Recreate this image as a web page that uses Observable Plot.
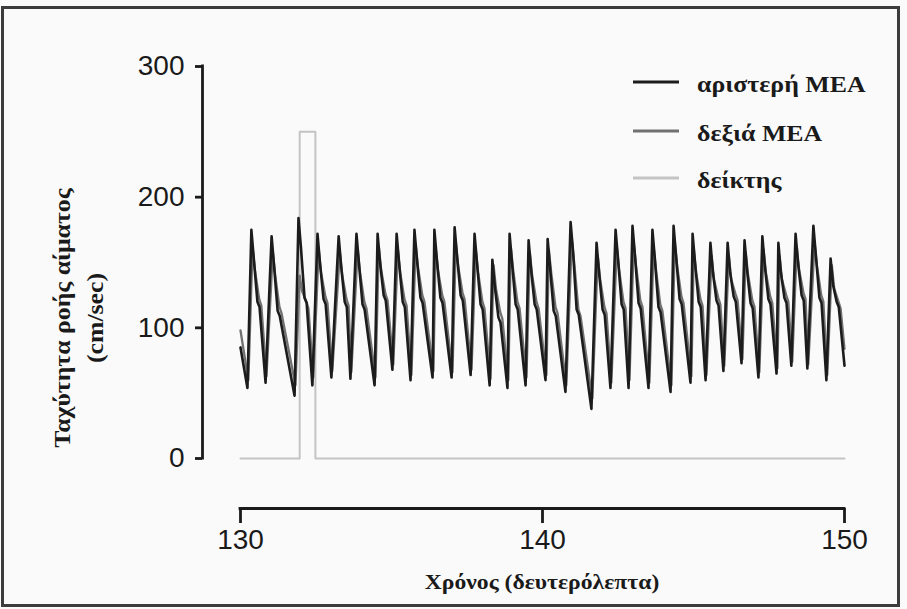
<!DOCTYPE html>
<html><head><meta charset="utf-8">
<script src="https://cdn.jsdelivr.net/npm/d3@7"></script>
<script src="https://cdn.jsdelivr.net/npm/@observablehq/plot@0.6"></script>
<style>
html,body{margin:0;padding:0;background:#fff;}
#wrap{position:relative;width:907px;height:609px;overflow:hidden;background:#fafafa;}
#border{position:absolute;left:1px;top:6px;width:899px;height:601px;border:3px solid #3c3c3c;box-sizing:border-box;}
#chart{position:absolute;left:0;top:0;}
.ttl{position:absolute;font-family:"Liberation Serif","Times New Roman",serif;font-weight:bold;color:#1a1a1a;white-space:nowrap;}
#ytitle{left:79px;top:318px;transform:translate(-50%,-50%) rotate(-90deg) scaleX(1.12);font-size:23px;text-align:center;line-height:33px;}
#xtitle{left:542px;top:582px;transform:translate(-50%,-50%) scaleX(1.1);font-size:21.5px;}
#legend{position:absolute;left:632px;top:60px;}
.li{position:absolute;left:0;height:48px;width:270px;}
.li svg{position:absolute;left:0;top:0;}
.li span{position:absolute;left:65px;top:50%;transform:translateY(-50%) scaleX(1.1);transform-origin:left center;font-family:"Liberation Serif","Times New Roman",serif;font-weight:bold;font-size:23.5px;color:#1a1a1a;white-space:nowrap;}
</style></head><body>
<div id="wrap">
  <div id="chart"></div>
  <div id="ytitle" class="ttl">Ταχύτητα ροής αίματος<br>(cm/sec)</div>
  <div id="xtitle" class="ttl">Χρόνος (δευτερόλεπτα)</div>
  <div id="legend"></div>
  <div id="border"></div>
</div>
<script>
// Series names and colours
const seriesNames = ["αριστερή ΜΕΑ", "δεξιά ΜΕΑ", "δείκτης"];
const seriesColors = ["#1c1c1c", "#717171", "#c4c4c4"];

// Axis ticks
const xTicks = [130, 140, 150];
const yTicks = [0, 100, 200, 300];

// Left MCA (αριστερή ΜΕΑ), per heartbeat: trough, systolic peak, shoulder, dicrotic notch, plateau (s, cm/sec)
const leftStart = [130.0, 85];
const leftEnd = [150.0, 71];
const leftTroughT = [130.23,130.83,131.79,132.38,133.01,133.64,134.44,135.03,135.63,136.36,136.99,137.62,138.25,138.84,139.44,140.10,140.76,141.62,142.25,142.85,143.51,144.24,144.90,145.40,145.99,146.59,147.15,147.75,148.24,148.77,149.40];
const leftTroughV = [54,58,48,56,62,61,56,68,60,62,62,64,56,54,56,60,51,38,54,54,54,51,58,60,67,73,62,65,71,69,60];
const leftPeakT = [130.36,131.03,131.92,132.55,133.25,133.84,134.54,135.17,135.76,136.42,137.09,137.75,138.34,138.91,139.54,140.17,140.93,141.79,142.42,142.98,143.64,144.34,144.97,145.56,146.13,146.69,147.28,147.81,148.38,148.97,149.54];
const leftPeakV = [175,170,184,172,170,172,172,172,175,175,177,172,152,172,167,168,181,165,175,178,175,178,172,165,165,167,170,165,172,178,153];
const leftShoulderT = [130.44,131.11,132.00,132.63,133.33,133.92,134.62,135.25,135.84,136.50,137.17,137.83,138.42,138.99,139.62,140.25,141.01,141.87,142.50,143.06,143.72,144.42,145.05,145.64,146.21,146.77,147.36,147.89,148.46,149.05,149.62];
const leftShoulderV = [153,148,162,150,148,150,150,150,153,153,155,150,132,150,145,146,159,143,153,156,153,156,150,143,143,145,148,143,150,156,133];
const leftNotchT = [130.56,131.23,132.12,132.75,133.45,134.04,134.74,135.37,135.96,136.62,137.29,137.95,138.54,139.11,139.74,140.37,141.13,141.99,142.62,143.18,143.84,144.54,145.17,145.76,146.33,146.89,147.48,148.01,148.58,149.17,149.74];
const leftNotchV = [120,113,123,122,120,118,125,120,123,123,125,118,108,118,118,113,114,114,118,119,116,122,120,121,124,119,122,123,125,123,120];
const leftPlateauT = [130.63,131.30,132.19,132.82,133.52,134.11,134.81,135.44,136.03,136.69,137.36,138.02,138.61,139.18,139.81,140.44,141.20,142.06,142.69,143.25,143.91,144.61,145.24,145.83,146.40,146.96,147.55,148.08,148.65,149.24,149.81];
const leftPlateauV = [116,109,119,118,116,114,121,116,119,119,121,114,104,114,114,109,110,110,114,115,112,118,116,117,120,115,118,119,121,119,116];

// Right MCA (δεξιά ΜΕΑ)
const rightStart = [130.0, 98];
const rightEnd = [150.0, 84];
const rightTroughT = [130.26,130.86,131.82,132.41,133.04,133.67,134.47,135.06,135.66,136.39,137.02,137.65,138.28,138.87,139.47,140.13,140.79,141.65,142.28,142.88,143.54,144.27,144.93,145.43,146.02,146.62,147.18,147.78,148.27,148.80,149.43];
const rightTroughV = [60,63,56,62,67,66,62,72,64,67,66,68,61,60,62,64,56,46,58,60,58,56,63,64,71,76,66,69,74,72,64];
const rightPeakT = [130.40,131.07,131.96,132.59,133.29,133.88,134.58,135.21,135.80,136.46,137.13,137.79,138.38,138.95,139.58,140.21,140.97,141.83,142.46,143.02,143.68,144.38,145.01,145.60,146.17,146.73,147.32,147.85,148.42,149.01,149.58];
const rightPeakV = [162,158,140,160,158,160,162,160,164,162,165,160,148,162,158,160,168,155,162,165,162,165,160,155,155,158,160,155,162,165,148];
const rightShoulderT = [130.48,131.15,132.04,132.67,133.37,133.96,134.66,135.29,135.88,136.54,137.21,137.87,138.46,139.03,139.66,140.29,141.05,141.91,142.54,143.10,143.76,144.46,145.09,145.68,146.25,146.81,147.40,147.93,148.50,149.09,149.66];
const rightShoulderV = [144,140,128,142,140,142,144,142,146,144,147,142,130,144,140,142,150,137,144,147,144,147,142,137,137,140,142,137,144,147,130];
const rightNotchT = [130.62,131.29,132.18,132.81,133.51,134.10,134.80,135.43,136.02,136.68,137.35,138.01,138.60,139.17,139.80,140.43,141.19,142.05,142.68,143.24,143.90,144.60,145.23,145.82,146.39,146.95,147.54,148.07,148.64,149.23,149.80];
const rightNotchV = [122,116,120,124,122,120,126,122,125,125,127,120,112,120,120,116,114,116,120,121,118,124,122,123,126,121,124,125,127,125,120];
const rightPlateauT = [130.69,131.36,132.25,132.88,133.58,134.17,134.87,135.50,136.09,136.75,137.42,138.08,138.67,139.24,139.87,140.50,141.26,142.12,142.75,143.31,143.97,144.67,145.30,145.89,146.46,147.02,147.61,148.14,148.71,149.30,149.87];
const rightPlateauV = [117,111,115,119,117,115,121,117,120,120,122,115,107,115,115,111,109,111,115,116,113,119,117,118,121,116,119,120,122,120,115];

// Marker (δείκτης)
const markerT = [130, 131.96, 131.96, 132.48, 132.48, 150];
const markerV = [0, 0, 250, 250, 0, 0];

function buildRows(start, parts, end) {
  const rows = [{t: start[0], v: start[1]}];
  const n = parts[0][0].length;
  for (let i = 0; i < n; i++) {
    for (const [ts, vs] of parts) rows.push({t: ts[i], v: vs[i]});
  }
  rows.push({t: end[0], v: end[1]});
  return rows;
}
const leftRows = buildRows(leftStart, [
  [leftTroughT, leftTroughV], [leftPeakT, leftPeakV], [leftShoulderT, leftShoulderV],
  [leftNotchT, leftNotchV], [leftPlateauT, leftPlateauV]], leftEnd);
const rightRows = buildRows(rightStart, [
  [rightTroughT, rightTroughV], [rightPeakT, rightPeakV], [rightShoulderT, rightShoulderV],
  [rightNotchT, rightNotchV], [rightPlateauT, rightPlateauV]], rightEnd);
const markerRows = markerT.map((t, i) => ({t, v: markerV[i]}));

const axisColor = "#1a1a1a";
const plot = Plot.plot({
  width: 907, height: 609,
  marginLeft: 240, marginRight: 63, marginTop: 66, marginBottom: 151,
  x: {domain: [130, 150]},
  y: {domain: [0, 300]},
  style: {background: "transparent", fontFamily: "'Liberation Sans', Arial, sans-serif", color: axisColor, overflow: "visible"},
  marks: [
    Plot.line(markerRows, {x: "t", y: "v", stroke: seriesColors[2], strokeWidth: 2}),
    Plot.line(rightRows, {x: "t", y: "v", stroke: seriesColors[1], strokeWidth: 2.3}),
    Plot.line(leftRows, {x: "t", y: "v", stroke: seriesColors[0], strokeWidth: 2.6}),
    Plot.ruleX([130], {y1: 0, y2: 300, dx: -38, stroke: axisColor, strokeWidth: 2.8, strokeLinecap: "square"}),
    Plot.axisY(yTicks, {anchor: "left", dx: -38, tickSize: 7, tickPadding: 11, strokeWidth: 2.8, fontSize: 28, label: null}),
    Plot.ruleY([0], {x1: 130, x2: 150, dy: 50, stroke: axisColor, strokeWidth: 2.8, strokeLinecap: "square"}),
    Plot.axisX(xTicks, {anchor: "bottom", dy: 50, tickSize: 15, tickPadding: 6, strokeWidth: 2.8, fontSize: 28, label: null})
  ]
});
document.getElementById("chart").appendChild(plot);

// Legend
const legend = document.getElementById("legend");
const legendTops = [0, 49, 96];
seriesNames.forEach((name, i) => {
  const item = document.createElement("div");
  item.className = "li";
  item.style.top = legendTops[i] + "px";
  item.innerHTML = `<svg width="50" height="48"><line x1="1" x2="47" y1="22" y2="22" stroke="${seriesColors[i]}" stroke-width="3"/></svg><span>${name}</span>`;
  legend.appendChild(item);
});
</script>
</body></html>
